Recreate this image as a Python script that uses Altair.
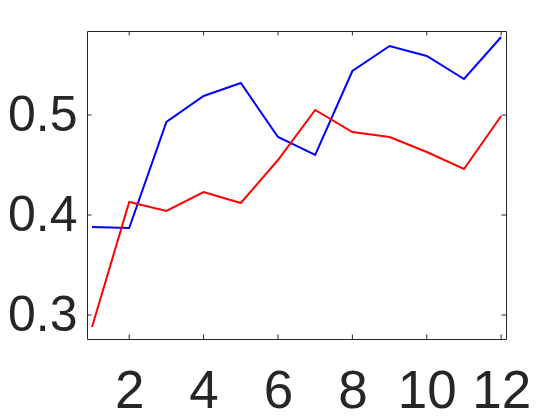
import altair as alt
import pandas as pd

x_vals = [1, 2, 3, 4, 5, 6, 7, 8, 9, 10, 11, 12]
blue_vals = [0.388, 0.387, 0.493, 0.519, 0.532, 0.478, 0.460, 0.544, 0.569, 0.559, 0.536, 0.578]
red_vals = [0.288, 0.413, 0.404, 0.423, 0.412, 0.455, 0.505, 0.483, 0.478, 0.463, 0.446, 0.499]
series_names = ["blue", "red"]
series_colors = ["#0000FF", "#FF0000"]
x_ticks = [2, 4, 6, 8, 10, 12]
y_ticks = [0.3, 0.4, 0.5]
x_domain = [0.865, 12.13]
y_domain = [0.276, 0.584]

rows = []
for name, vals in zip(series_names, [blue_vals, red_vals]):
    for xv, yv in zip(x_vals, vals):
        rows.append({"x": xv, "y": yv, "series": name})
df = pd.DataFrame(rows)
xt = pd.DataFrame({"x": x_ticks})
yt = pd.DataFrame({"y": y_ticks})

W, H = 419, 308
TL = 4.5
FONT = "Liberation Sans"
INK = "#262626"

xscale = alt.Scale(domain=x_domain, nice=False, zero=False)
yscale = alt.Scale(domain=y_domain, nice=False, zero=False)

xaxis = alt.Axis(values=x_ticks, title=None, grid=False, ticks=False, tickSize=0,
                 domain=False, labelFont=FONT, labelFontSize=53, labelColor=INK,
                 labelPadding=26, labelFlush=False, labelOverlap=False)
yaxis = alt.Axis(values=y_ticks, title=None, grid=False, ticks=False, tickSize=0,
                 domain=False, labelFont=FONT, labelFontSize=50, labelColor=INK,
                 labelPadding=10, format=".1f", labelFlush=False, labelOverlap=False)

lines = alt.Chart(df).mark_line(strokeWidth=2, clip=True).encode(
    x=alt.X("x:Q", scale=xscale, axis=xaxis),
    y=alt.Y("y:Q", scale=yscale, axis=yaxis),
    color=alt.Color("series:N", scale=alt.Scale(domain=series_names, range=series_colors), legend=None),
    order=alt.Order("x:Q"),
)

tick_style = dict(color=INK, strokeWidth=1)
bottom = alt.Chart(xt).mark_rule(**tick_style).encode(
    x=alt.X("x:Q", scale=xscale, axis=xaxis), y=alt.value(H), y2=alt.value(H - TL))
top = alt.Chart(xt).mark_rule(**tick_style).encode(
    x=alt.X("x:Q", scale=xscale, axis=xaxis), y=alt.value(0), y2=alt.value(TL))
left = alt.Chart(yt).mark_rule(**tick_style).encode(
    y=alt.Y("y:Q", scale=yscale, axis=yaxis), x=alt.value(0), x2=alt.value(TL))
right = alt.Chart(yt).mark_rule(**tick_style).encode(
    y=alt.Y("y:Q", scale=yscale, axis=yaxis), x=alt.value(W), x2=alt.value(W - TL))

chart = alt.layer(lines, bottom, top, left, right).properties(
    width=W, height=H,
    autosize=alt.AutoSizeParams(type="none"),
    padding={"left": 79, "top": 23, "right": 46, "bottom": 80},
    background="white",
).configure_view(stroke=INK, strokeWidth=1)

chart.save("out.html", embed_options={"renderer": "svg", "actions": False})
